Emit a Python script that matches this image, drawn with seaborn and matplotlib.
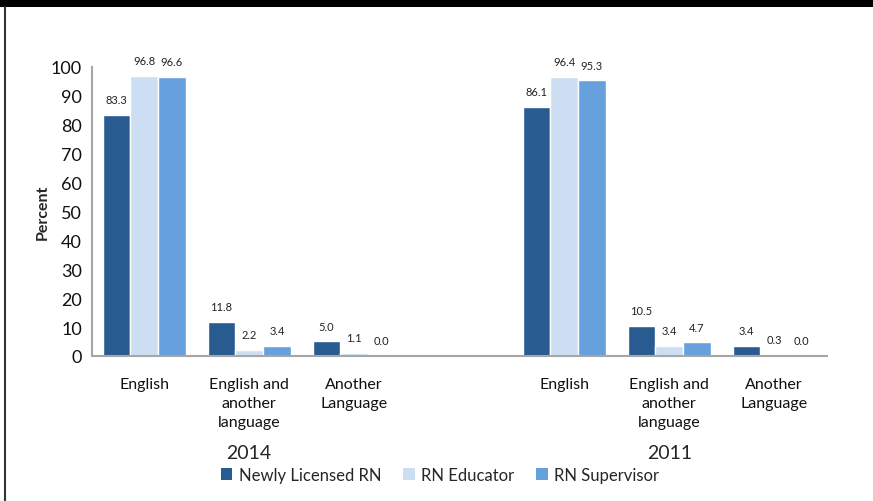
import pandas as pd
import matplotlib.pyplot as plt
import seaborn as sns
from matplotlib.patches import Rectangle, Patch
from matplotlib.lines import Line2D
from matplotlib.transforms import blended_transform_factory


# DATA
slots = ["Eng14", "EA14", "AL14", "gap", "Eng11", "EA11", "AL11"]
slot_labels = ["English", "English and\nanother\nlanguage", "Another\nLanguage", "",
               "English", "English and\nanother\nlanguage", "Another\nLanguage"]
years = ["2014", "2011"]
roles = ["Newly Licensed RN", "RN Educator", "RN Supervisor"]

newly_licensed = [83.3, 11.8, 5.0, 86.1, 10.5, 3.4]
educator = [96.8, 2.2, 1.1, 96.4, 3.4, 0.3]
supervisor = [96.6, 3.4, 0.0, 95.3, 4.7, 0.0]

colors = ["#285C91", "#CCDFF2", "#66A1DD"]


# BUILD TABLE
data_slots = [s for s in slots if s != "gap"]
rows = []
for role, vals in zip(roles, [newly_licensed, educator, supervisor]):
    for s, v in zip(data_slots, vals):
        rows.append({"slot": s, "role": role, "value": v})
df = pd.DataFrame(rows)


# PLOT
sns.set_style("white")
plt.rcParams['font.family'] = ['Lato', 'DejaVu Sans']

fig = plt.figure(figsize=(8.73, 5.02), dpi=100)
ax = fig.add_axes([0.105, 0.289, 0.842, 0.576])

sns.barplot(
    data=df, x="slot", y="value", hue="role",
    order=slots, hue_order=roles, palette=colors,
    width=0.79, saturation=1, legend=False, ax=ax
)

for c in ax.containers:
    ax.bar_label(c, fmt="%.1f", padding=7, fontsize=8, color="#222222")

ax.set_ylim(0, 100)
ax.set_yticks(range(0, 101, 10))
ax.tick_params(axis="y", labelsize=13, length=0, pad=7, labelcolor="#111111")
ax.set_xticks(range(len(slots)))
ax.set_xticklabels(slot_labels, fontsize=11.5, linespacing=1.45)
ax.tick_params(axis="x", length=0, pad=15, labelcolor="#111111")
ax.set_xlabel("")
ax.set_ylabel("Percent", fontsize=11.5, fontweight="bold", labelpad=1)

for side in ["top", "right"]:
    ax.spines[side].set_visible(False)
for side in ["left", "bottom"]:
    ax.spines[side].set_color("#A6A6A6")
    ax.spines[side].set_linewidth(1.5)

# year labels under the groups
tr = blended_transform_factory(ax.transData, fig.transFigure)
ax.text(1, 1 - 454 / 502, years[0], transform=tr, ha="center", va="center", fontsize=14)
ax.text(5, 1 - 454 / 502, years[1], transform=tr, ha="center", va="center", fontsize=14)

# legend
handles = [Patch(facecolor=c, edgecolor="none") for c in colors]
fig.legend(handles, roles, loc="center", bbox_to_anchor=(0.504, 1 - 476 / 502),
           ncol=3, frameon=False, fontsize=12, handlelength=0.7, handleheight=0.7,
           handletextpad=0.4, columnspacing=1.3)

# top banner and left border
fig.patches.append(Rectangle((0, 1 - 8 / 502), 1, 8 / 502, transform=fig.transFigure,
                             facecolor="black", edgecolor="none"))
fig.lines.append(Line2D([5 / 873, 5 / 873], [0, 1 - 8 / 502], transform=fig.transFigure,
                        color="#333333", linewidth=1.5))

plt.savefig("out.png", dpi=100)
